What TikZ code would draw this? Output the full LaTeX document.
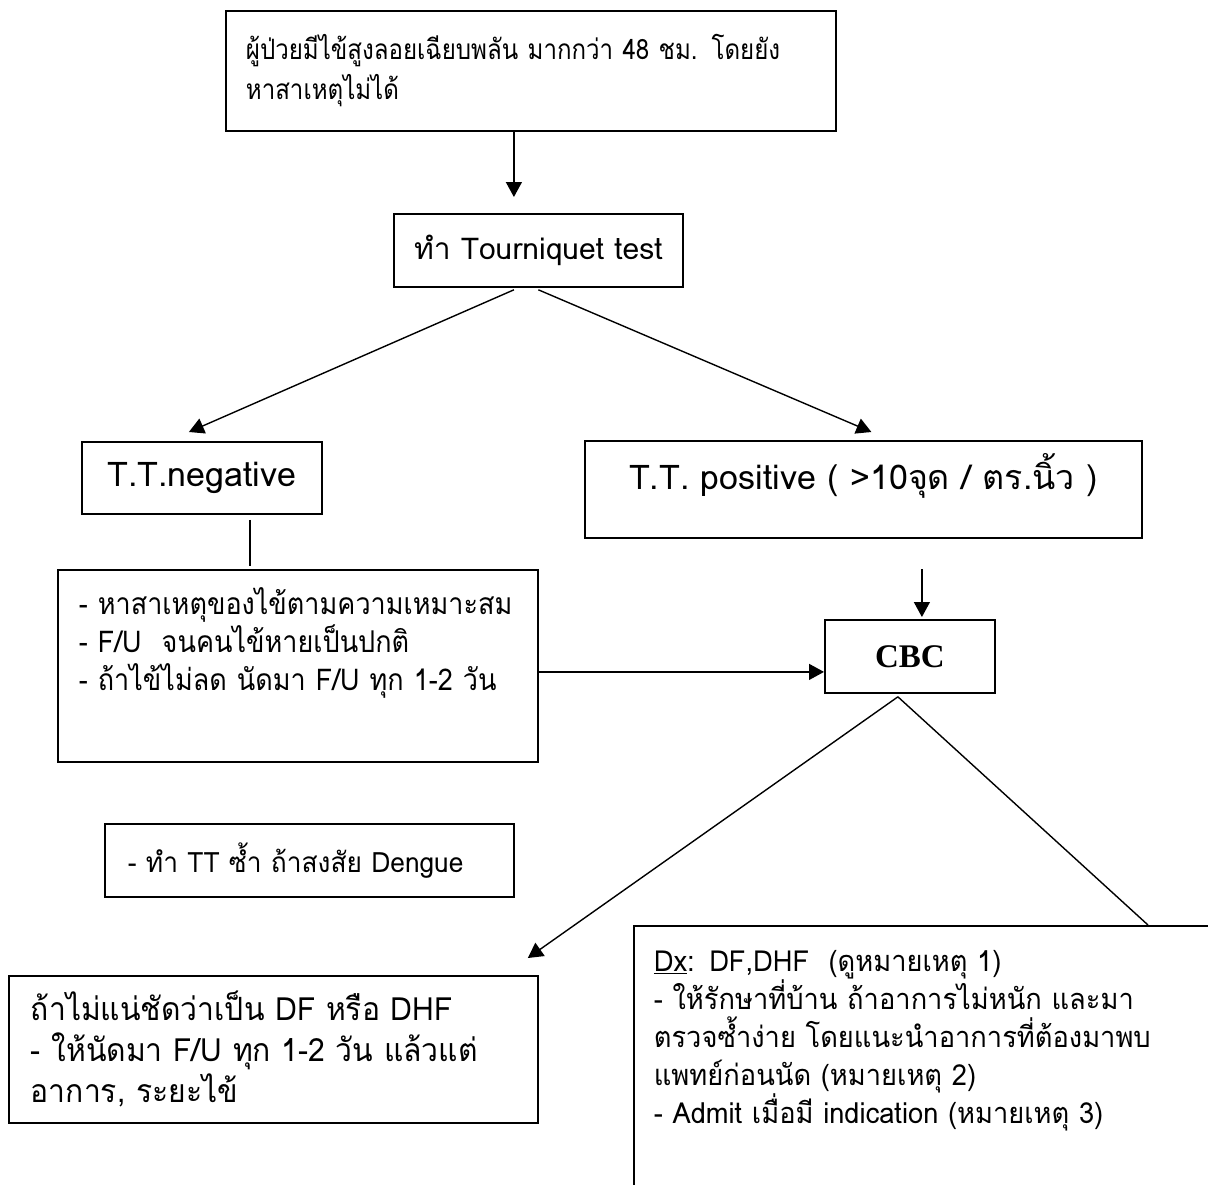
\documentclass[tikz,border=0pt]{standalone}
\usepackage{fontspec}
\setmainfont{Loma}[Script=Thai]
\newfontfamily\thaicond{Loma}[Script=Thai, FakeStretch=0.9]
\newfontfamily\thainarrow{Loma}[Script=Thai, FakeStretch=0.86]
\newfontfamily\thaisemi{Loma}[Script=Thai, FakeStretch=0.94]
\newfontfamily\cbcfont{Liberation Serif}
\usetikzlibrary{arrows.meta}

\begin{document}
\begin{tikzpicture}[x=0.5pt, y=-0.5pt, line width=0.7pt,
    box/.style={draw, line width=0.9pt, inner sep=0pt, anchor=north west},
    arr/.style={-{Triangle[length=7.5pt,width=8pt]}}]
            \clip (0,0) rectangle (1208,1184);
            \node [box, minimum width=305pt, minimum height=60pt, text width=285pt, align=left, font=\thainarrow\fontsize{14}{20}\selectfont] (Fever) at (225,10) {\mbox{ผู้ป่วยมีไข้สูงลอยเฉียบพลัน มากกว่า 48 ชม. โดยยัง}\\หาสาเหตุไม่ได้};
            \node [box, minimum width=144.5pt, minimum height=36.5pt, font=\fontsize{15}{19}\selectfont] (TT) at (393,213) {ทำ Tourniquet test};
            \node [box, minimum width=120pt, minimum height=36pt, font=\fontsize{17}{20}\selectfont] (TTneg) at (81,441) {T.T.negative};
            \node [box, minimum width=278.5pt, minimum height=48.5pt, text depth=18pt, font=\fontsize{17}{20}\selectfont] (TTpos) at (584,440) {T.T. positive ( >10จุด / ตร.นิ้ว )};
            \node [box, minimum width=240pt, minimum height=96pt, text width=219pt, align=left, font=\thaicond\fontsize{15}{19}\selectfont] (NegCare) at (57,569) {\mbox{- หาสาเหตุของไข้ตามความเหมาะสม}\\\mbox{- F/U\ \ จนคนไข้หายเป็นปกติ}\\\mbox{- ถ้าไข้ไม่ลด นัดมา F/U ทุก 1-2 วัน}\\[8pt]~};
            \node [box, minimum width=85pt, minimum height=36.5pt, font=\cbcfont\bfseries\fontsize{16.5}{20}\selectfont] (CBC) at (824,619) {CBC};
            \node [box, minimum width=204.5pt, minimum height=36.5pt, text width=181.5pt, align=left, font=\thaisemi\fontsize{14}{18}\selectfont] (Retest) at (104,823) {- ทำ TT ซ้ำ ถ้าสงสัย Dengue};
            \node [box, minimum width=264.5pt, minimum height=73.5pt, text width=242.5pt, align=left, font=\thaisemi\fontsize{16}{20.5}\selectfont] (Unclear) at (8,975) {ถ้าไม่แน่ชัดว่าเป็น DF หรือ DHF\\\mbox{- ให้นัดมา F/U ทุก 1-2 วัน แล้วแต่}\\อาการ, ระยะไข้};
            \node [box, minimum width=300pt, inner xsep=10pt, inner ysep=12pt, text width=280pt, align=left, font=\thaisemi\fontsize{14.5}{19}\selectfont] (Dx) at (633,925) {\underline{Dx}: DF,DHF\ \ (ดูหมายเหตุ 1)\\- ให้รักษาที่บ้าน ถ้าอาการไม่หนัก และมา\\ตรวจซ้ำง่าย โดยแนะนำอาการที่ต้องมาพบ\\แพทย์ก่อนนัด (หมายเหตุ 2)\\- Admit เมื่อมี indication (หมายเหตุ 3)\\[60pt]~};
            \path[arr] ([xshift=-8.5pt]Fever.south) edge ([xshift=-12.25pt,yshift=8pt]TT.north);
            \path[arr] ([xshift=-12.25pt,yshift=-1pt]TT.south) edge ([xshift=-6.5pt,yshift=4.5pt]TTneg.north);
            \path[arr] ([yshift=-1pt]TT.south) edge ([xshift=4pt,yshift=4pt]TTpos.north);
            \path ([xshift=24pt,yshift=-2.5pt]TTneg.south) edge ([xshift=-24pt,yshift=1.5pt]NegCare.north);
            \path[arr] ([yshift=-3pt]NegCare.east) edge ([yshift=-3pt]NegCare.east -| CBC.west);
            \path[arr] ([xshift=6pt,yshift=25pt]CBC.north) edge ([xshift=6pt,yshift=1pt]CBC.north);
            \path[arr] ([xshift=-6pt,yshift=-1.5pt]CBC.south) edge ([xshift=-5.5pt,yshift=8.5pt]Unclear.north east);
            \path ([xshift=-6pt,yshift=-1.5pt]CBC.south) edge ([xshift=257.5pt]Dx.north west);
        \end{tikzpicture}
\end{document}
